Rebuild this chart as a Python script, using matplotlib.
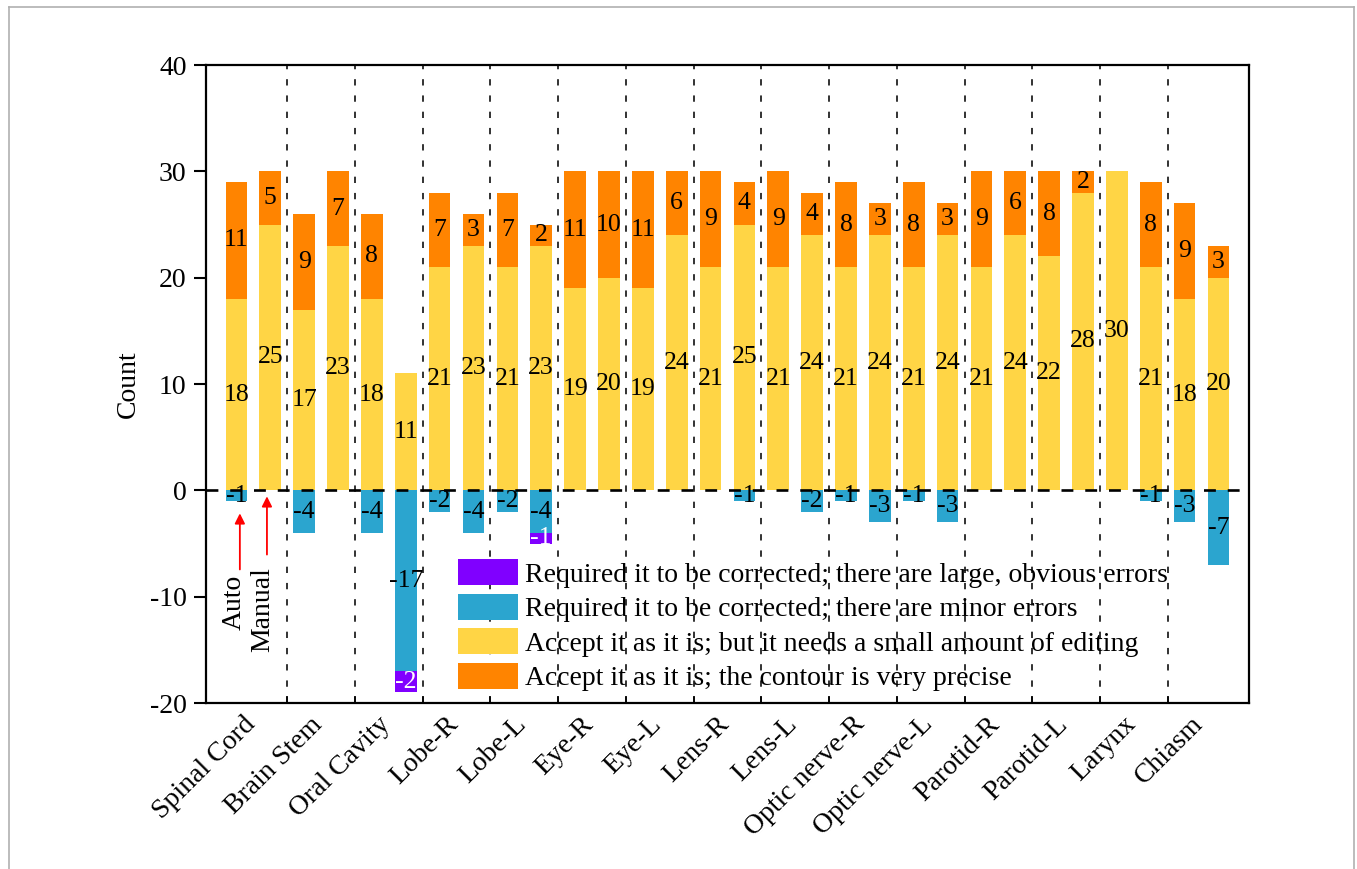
import numpy as np
import matplotlib
matplotlib.use("Agg")
import matplotlib.pyplot as plt
from matplotlib.patches import Patch
from matplotlib.lines import Line2D
from matplotlib.transforms import ScaledTranslation

plt.rcParams['font.family'] = ['Liberation Serif', 'DejaVu Serif']
plt.rcParams['axes.unicode_minus'] = False

categories = ["Spinal Cord", "Brain Stem", "Oral Cavity", "Lobe-R", "Lobe-L",
              "Eye-R", "Eye-L", "Lens-R", "Lens-L", "Optic nerve-R",
              "Optic nerve-L", "Parotid-R", "Parotid-L", "Larynx", "Chiasm"]

# Auto-segmented contours
auto_edit = [18, 17, 18, 21, 21, 19, 19, 21, 21, 21, 21, 21, 22, 30, 18]
auto_precise = [11, 9, 8, 7, 7, 11, 11, 9, 9, 8, 8, 9, 8, 0, 9]
auto_minor = [-1, -4, -4, -2, -2, 0, 0, 0, 0, -1, -1, 0, 0, 0, -3]
auto_major = [0, 0, 0, 0, 0, 0, 0, 0, 0, 0, 0, 0, 0, 0, 0]

# Manually drawn contours
manual_edit = [25, 23, 11, 23, 23, 20, 24, 25, 24, 24, 24, 24, 28, 21, 20]
manual_precise = [5, 7, 0, 3, 2, 10, 6, 4, 4, 3, 3, 6, 2, 8, 3]
manual_minor = [0, 0, -17, -4, -4, 0, 0, -1, -2, -3, -3, 0, 0, -1, -7]
manual_major = [0, 0, -2, 0, -1, 0, 0, 0, 0, 0, 0, 0, 0, 0, 0]

legend_labels = [
    "Required it to be corrected; there are large, obvious errors",
    "Required it to be corrected; there are minor errors",
    "Accept it as it is; but it needs a small amount of editing",
    "Accept it as it is; the contour is very precise",
]

c_major = "#8000FF"
c_minor = "#2BA5CF"
c_edit = "#FFD545"
c_precise = "#FF8400"


def interleave(a, b):
    out = []
    for x, y in zip(a, b):
        out += [x, y]
    return np.array(out, dtype=float)


edit = interleave(auto_edit, manual_edit)
precise = interleave(auto_precise, manual_precise)
minor = interleave(auto_minor, manual_minor)
major = interleave(auto_major, manual_major)
xpos = np.arange(len(edit))

fig = plt.figure(figsize=(13.57, 8.69), dpi=100)
ax = fig.add_axes([0.1518, 0.191, 0.7686, 0.7342])

bw = 0.64
ax.bar(xpos, edit, bw, color=c_edit, zorder=2)
ax.bar(xpos, precise, bw, bottom=edit, color=c_precise, zorder=2)
ax.bar(xpos, minor, bw, color=c_minor, zorder=2)
ax.bar(xpos, major, bw, bottom=minor, color=c_major, zorder=2)

fs = 20
lab_fs = 18.5
for x, e, p, mi, ma in zip(xpos, edit, precise, minor, major):
    if e:
        ax.text(x, e / 2, f"{int(e)}", ha='center', va='center', fontsize=lab_fs, zorder=4)
    if p:
        ax.text(x, e + p / 2, f"{int(p)}", ha='center', va='center', fontsize=lab_fs, zorder=4)
    if mi:
        ax.text(x, mi / 2, f"{int(mi)}", ha='center', va='center', fontsize=lab_fs, zorder=4)
    if ma:
        ax.text(x, mi + ma / 2, f"{int(ma)}", ha='center', va='center', fontsize=lab_fs,
                color='white', zorder=4)

# group separators
for s in np.arange(1.5, len(xpos) - 1, 2):
    ax.axvline(s, color='#222222', lw=1.3, linestyle=(0, (3.5, 5.5)), zorder=1)

# zero reference line
ax.axhline(0, color='black', lw=1.9, linestyle=(0, (4.5, 4.5)), zorder=3)

ax.set_xlim(-0.9, len(xpos) - 0.1)
ax.set_ylim(-20, 40)
ax.set_yticks([-20, -10, 0, 10, 20, 30, 40])
ax.tick_params(axis='y', direction='out', length=9, width=1.5, labelsize=fs, pad=5)

ax.set_xticks(np.arange(1.5, len(xpos) - 1, 2))
ax.set_xticklabels([])
ax.tick_params(axis='x', which='major', direction='in', length=5, width=1.2)
ax.set_xticks(np.arange(0.5, len(xpos), 2), minor=True)
ax.set_xticklabels(categories, minor=True, rotation=45, ha='right',
                   rotation_mode='anchor', fontsize=fs)
ax.tick_params(axis='x', which='minor', length=0, pad=10)
shift = ScaledTranslation(-0.11, 0.05, fig.dpi_scale_trans)
for lab in ax.get_xticklabels(minor=True):
    lab.set_transform(lab.get_transform() + shift)

for sp in ax.spines.values():
    sp.set_linewidth(1.6)

ax.set_ylabel("Count", fontsize=fs, labelpad=6)

# Auto / Manual pointers
arrow_kw = dict(arrowstyle='-|>', color='red', lw=1.3, mutation_scale=15)
ax.annotate("", xy=(0.1, -1.9), xytext=(0.1, -7.7), arrowprops=arrow_kw, zorder=5)
ax.annotate("", xy=(0.9, -0.3), xytext=(0.9, -6.3), arrowprops=arrow_kw, zorder=5)
ax.text(-0.08, -7.9, "Auto", rotation=90, ha='center', va='top', fontsize=fs)
ax.text(0.78, -7.2, "Manual", rotation=90, ha='center', va='top', fontsize=fs)

handles = [Patch(facecolor=c, edgecolor='none') for c in (c_major, c_minor, c_edit, c_precise)]
ax.legend(handles, legend_labels, loc='upper left', bbox_to_anchor=(0.2416, 0.225),
          frameon=False, fontsize=fs, borderpad=0, borderaxespad=0,
          handlelength=2.15, handleheight=1.05, handletextpad=0.25, labelspacing=0.22)

# thin frame around the figure
for xs, ys in [((9 / 1357, 9 / 1357), (0, 1 - 7 / 869)),
               ((9 / 1357, 1354 / 1357), (1 - 7 / 869, 1 - 7 / 869)),
               ((1354 / 1357, 1354 / 1357), (0, 1 - 7 / 869))]:
    fig.add_artist(Line2D(xs, ys, transform=fig.transFigure, color='#b0b0b0', lw=1.2))

fig.savefig("out.png", dpi=100)
